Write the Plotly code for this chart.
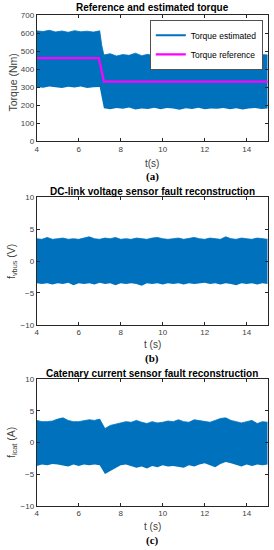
import plotly.graph_objects as go

# ---------------- data ----------------
torque_t = [4.0, 4.3, 4.6, 4.9, 5.2, 5.5, 5.8, 6.1, 6.4, 6.7, 7.0, 7.1, 7.2, 7.5, 7.8,
            8.1, 8.4, 8.7, 9.0, 9.3, 9.6, 9.9, 10.2, 10.5, 10.8, 11.1, 11.4, 11.7, 12.0,
            12.3, 12.6, 12.9, 13.2, 13.5, 13.8, 14.1, 14.4, 14.7, 15.0]
torque_upper = [612, 608, 615, 606, 611, 604, 613, 607, 610, 605, 612, 530, 478, 485, 472,
                480, 476, 488, 474, 482, 470, 479, 484, 475, 481, 473, 486, 477, 480,
                471, 483, 476, 485, 478, 474, 482, 476, 480, 478]
torque_lower = [300, 296, 303, 298, 294, 301, 297, 303, 295, 299, 300, 240, 182, 176, 184,
                179, 186, 175, 181, 178, 185, 177, 183, 180, 174, 182, 178, 185, 176,
                181, 179, 184, 177, 182, 175, 180, 183, 178, 180]

ref_t = [4.0, 6.96, 7.2, 15.0]
ref_torque = [460, 460, 330, 330]

fault_t = [4.0, 4.25, 4.5, 4.75, 5.0, 5.25, 5.5, 5.75, 6.0, 6.25, 6.5, 6.75, 7.0, 7.25, 7.5,
           7.75, 8.0, 8.25, 8.5, 8.75, 9.0, 9.25, 9.5, 9.75, 10.0, 10.25, 10.5, 10.75, 11.0,
           11.25, 11.5, 11.75, 12.0, 12.25, 12.5, 12.75, 13.0, 13.25, 13.5, 13.75, 14.0,
           14.25, 14.5, 14.75, 15.0]
vbus_upper = [3.5, 3.4, 3.7, 3.4, 3.5, 3.6, 3.4, 3.5, 3.4, 3.6, 3.8, 3.5, 3.4, 3.6, 3.5,
              3.7, 3.4, 3.5, 3.4, 3.6, 3.5, 3.4, 3.6, 3.7, 3.5, 3.4, 3.5, 3.6, 3.4, 3.5,
              3.7, 3.5, 3.4, 3.6, 3.5, 3.4, 3.8, 3.5, 3.4, 3.6, 3.5, 3.4, 3.6, 3.5, 3.4]
vbus_lower = [-3.5, -3.6, -3.5, -3.7, -3.5, -3.6, -3.4, -3.8, -3.5, -3.6, -3.5, -3.7, -3.4,
              -3.6, -3.5, -3.8, -3.5, -3.6, -3.5, -3.6, -3.9, -3.5, -3.6, -3.5, -3.7, -3.5,
              -3.6, -3.5, -3.7, -3.5, -3.6, -3.5, -3.4, -3.6, -3.5, -3.7, -3.5, -3.6, -3.8,
              -3.5, -3.6, -3.5, -3.7, -3.5, -3.6]
icat_upper = [3.5, 3.3, 3.3, 3.4, 3.7, 3.9, 3.5, 3.3, 3.3, 3.5, 3.6, 3.5, 3.7, 2.2, 2.7,
              2.9, 3.1, 3.3, 3.2, 3.5, 3.2, 3.0, 3.3, 3.1, 3.2, 3.4, 3.3, 3.6, 3.3, 3.2,
              3.6, 3.5, 3.4, 3.2, 3.5, 3.8, 3.9, 3.5, 3.3, 3.1, 3.3, 3.5, 3.0, 3.3, 3.2]
icat_lower = [-3.7, -3.5, -3.6, -3.4, -3.5, -3.6, -3.8, -3.5, -3.7, -3.5, -3.6, -3.5, -3.6,
              -5.0, -4.5, -4.0, -3.6, -3.5, -3.8, -4.0, -3.8, -4.1, -3.7, -3.9, -3.6, -3.8,
              -3.7, -3.9, -4.0, -3.6, -3.8, -3.5, -3.3, -3.6, -3.9, -3.4, -3.1, -3.3, -3.6,
              -3.8, -3.5, -3.7, -3.5, -3.6, -3.5]

x_ticks = [4, 6, 8, 10, 12, 14]
torque_ticks = [0, 100, 200, 300, 400, 500, 600, 700]
fault_ticks = [-10, -5, 0, 5, 10]

# ---------------- styling ----------------
BLUE = "#0072BD"
MAGENTA = "#FF00FF"
AX = "#262626"
TXT = "#404040"
FONT = "Liberation Sans, Arial, sans-serif"
W, H = 274, 550


def px_y(p):
    return 1 - p / H


x_dom = [36.7 / W, 267.7 / W]
doms = [
    [px_y(141), px_y(15)],
    [px_y(324.7), px_y(197.3)],
    [px_y(505.7), px_y(379.3)],
]

fig = go.Figure()


def band(t, lo, hi, ax):
    xa, ya = ("x", "y") if ax == 1 else (f"x{ax}", f"y{ax}")
    fig.add_trace(go.Scatter(x=t, y=lo, mode="lines", line=dict(width=0, color=BLUE),
                             showlegend=False, xaxis=xa, yaxis=ya, hoverinfo="skip"))
    fig.add_trace(go.Scatter(x=t, y=hi, mode="lines", line=dict(width=0.8, color=BLUE),
                             fill="tonexty", fillcolor=BLUE, showlegend=False,
                             xaxis=xa, yaxis=ya, hoverinfo="skip"))


band(torque_t, torque_lower, torque_upper, 1)
band(fault_t, vbus_lower, vbus_upper, 2)
band(fault_t, icat_lower, icat_upper, 3)

# legend proxy for estimated torque
fig.add_trace(go.Scatter(x=[None], y=[None], mode="lines", line=dict(color=BLUE, width=2),
                         name="Torque estimated", xaxis="x", yaxis="y"))
fig.add_trace(go.Scatter(x=ref_t, y=ref_torque, mode="lines", line=dict(color=MAGENTA, width=2.2),
                         name="Torque reference", xaxis="x", yaxis="y"))

axis_common = dict(showgrid=False, zeroline=False, showline=True, linecolor=AX, linewidth=0.8,
                   mirror="ticks", ticks="inside", ticklen=3, tickcolor=AX, tickwidth=0.8,
                   tickfont=dict(family=FONT, size=8, color=TXT), automargin=False)

layout = dict(
    width=W, height=H, margin=dict(l=0, r=0, t=0, b=0),
    paper_bgcolor="white", plot_bgcolor="white",
    font=dict(family=FONT, color=TXT),
    legend=dict(x=263 / W, y=px_y(20), xanchor="right", yanchor="top",
                bgcolor="white", bordercolor=AX, borderwidth=0.8,
                font=dict(family=FONT, size=8.5, color="#000000"),
                tracegroupgap=0, itemwidth=30, traceorder="normal"),
    showlegend=True,
)
for i in range(3):
    xk = "xaxis" if i == 0 else f"xaxis{i + 1}"
    yk = "yaxis" if i == 0 else f"yaxis{i + 1}"
    ya = "y" if i == 0 else f"y{i + 1}"
    xa = "x" if i == 0 else f"x{i + 1}"
    layout[xk] = dict(axis_common, domain=x_dom, range=[4, 15], tickvals=x_ticks, anchor=ya)
    if i == 0:
        layout[yk] = dict(axis_common, domain=doms[i], range=[0, 700], tickvals=torque_ticks, anchor=xa)
    else:
        layout[yk] = dict(axis_common, domain=doms[i], range=[-10, 10], tickvals=fault_ticks, anchor=xa)
fig.update_layout(**layout)

cx = (36.7 + 267.7) / 2 / W
titles = ["Reference and estimated torque", "DC-link voltage sensor fault reconstruction",
          "Catenary current sensor fault reconstruction"]
title_y = [8, 191, 373]
xlabels = ["t(s)", "t (s)", "t (s)"]
xlabel_y = [163, 344, 526]
tags = ["(a)", "(b)", "(c)"]
tag_y = [177, 358, 540]
ylabels = ["Torque (Nm)", "f<sub>vbus</sub> (V)", "f<sub>icat</sub> (A)"]
ylabel_y = [82.5, 262, 443]

for i in range(3):
    fig.add_annotation(text="<b>" + titles[i] + "</b>", x=cx, y=px_y(title_y[i]), xref="paper",
                       yref="paper", showarrow=False, xanchor="center", yanchor="middle",
                       font=dict(family=FONT, size=10, color="#000000"))
    fig.add_annotation(text=xlabels[i], x=cx, y=px_y(xlabel_y[i]), xref="paper", yref="paper",
                       showarrow=False, xanchor="center", yanchor="middle",
                       font=dict(family=FONT, size=10, color=TXT))
    fig.add_annotation(text="<b>" + tags[i] + "</b>", x=cx, y=px_y(tag_y[i]), xref="paper",
                       yref="paper", showarrow=False, xanchor="center", yanchor="middle",
                       font=dict(family="Liberation Serif, Times New Roman, serif", size=11,
                                 color="#000000"))
    fig.add_annotation(text=ylabels[i], x=12 / W, y=px_y(ylabel_y[i]), xref="paper",
                       yref="paper", showarrow=False, xanchor="center", yanchor="middle",
                       textangle=-90, font=dict(family=FONT, size=10.5, color=TXT))

fig.write_html("out.html", config={"displayModeBar": False},
               post_script="document.body.style.margin='0';document.body.style.overflow='hidden';")
